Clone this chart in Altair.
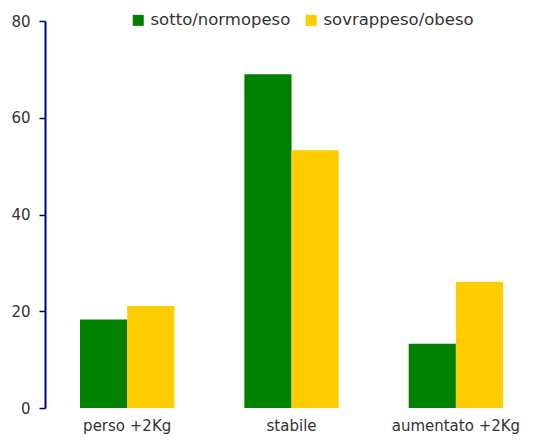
import altair as alt
import pandas as pd

categories = ["perso +2Kg", "stabile", "aumentato +2Kg"]
series = ["sotto/normopeso", "sovrappeso/obeso"]
sotto = [18.3, 69.0, 13.3]
sovra = [21.1, 53.3, 26.1]
colors = ["#008000", "#FFCC00"]

rows = []
for c, a, b in zip(categories, sotto, sovra):
    rows.append({"cat": c, "serie": series[0], "val": a})
    rows.append({"cat": c, "serie": series[1], "val": b})
df = pd.DataFrame(rows)

FONT = "DejaVu Sans"

chart = alt.Chart(df).mark_bar().encode(
    x=alt.X("cat:N", sort=categories,
            scale=alt.Scale(paddingInner=0.426, paddingOuter=0.2037, align=0.523),
            axis=alt.Axis(title=None, labelAngle=0, domain=False, ticks=False,
                          tickSize=0, labelPadding=10, labelFontSize=15,
                          labelFont=FONT, labelColor="#333333")),
    xOffset=alt.XOffset("serie:N", sort=series, scale=alt.Scale(paddingInner=0)),
    y=alt.Y("val:Q", scale=alt.Scale(domain=[0, 80], nice=False),
            axis=alt.Axis(title=None, values=[0, 20, 40, 60, 80], grid=False,
                          domainColor="#000080", domainWidth=2,
                          tickColor="#000080", tickSize=6, tickWidth=1.5,
                          labelFontSize=15, labelFont=FONT, labelColor="#333333",
                          labelPadding=9)),
    color=alt.Color("serie:N", sort=series,
                    scale=alt.Scale(domain=series, range=colors),
                    legend=alt.Legend(title=None, orient="none", legendX=85, legendY=-9,
                                      direction="horizontal", symbolType="square",
                                      symbolSize=121, symbolStrokeWidth=0,
                                      labelFontSize=16.5, labelFont=FONT,
                                      labelColor="#333333", labelOffset=4,
                                      columnPadding=12)),
).properties(
    width=490, height=387,
    autosize=alt.AutoSizeParams(type="none"),
    padding={"left": 37, "top": 13, "right": 2, "bottom": 27},
).configure_view(stroke=None)

chart.save("out.html", embed_options={"renderer": "svg", "actions": False})
